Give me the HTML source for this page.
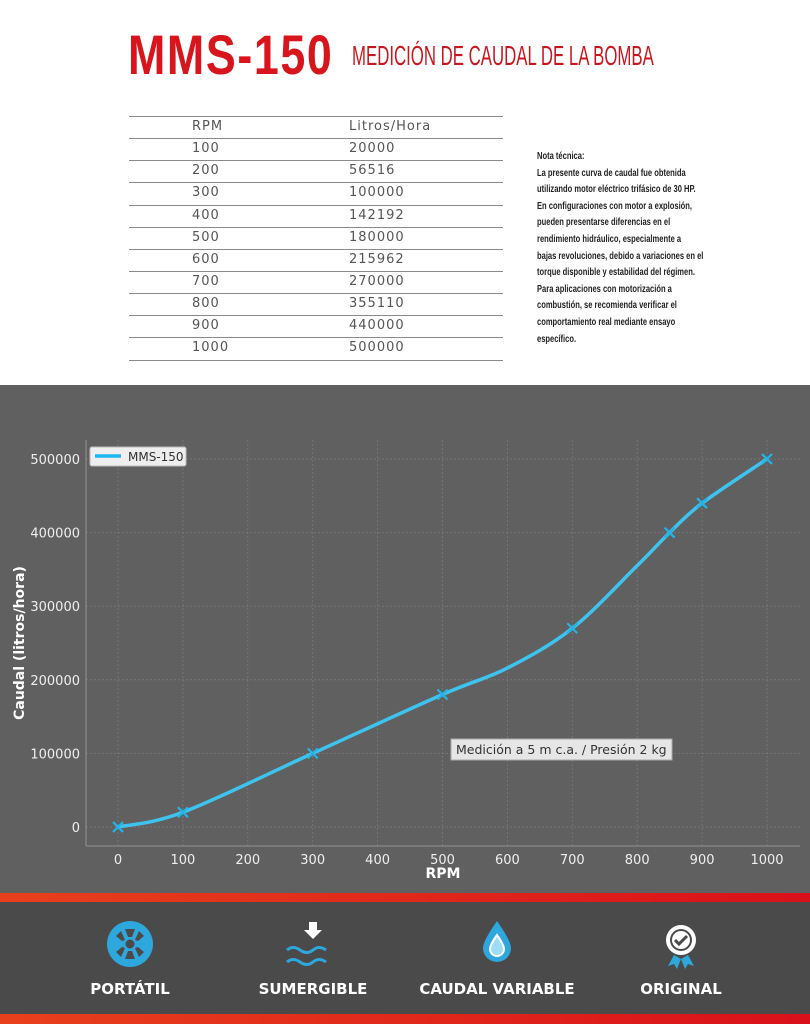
<!DOCTYPE html>
<html><head><meta charset="utf-8"><style>
body{margin:0;width:810px;height:1024px;position:relative;background:#fff;font-family:"Liberation Sans",sans-serif;overflow:hidden}
.abs{position:absolute}
.t1{left:128px;top:22px;font-size:56px;font-weight:bold;color:#d8141c;transform:scaleX(0.8);transform-origin:left top;letter-spacing:2px;font-family:"Liberation Sans Narrow","Liberation Sans",sans-serif;white-space:nowrap}
.t2{left:352px;top:40px;font-size:28px;color:#c8161e;transform:scaleX(0.6);transform-origin:left top;font-family:"Liberation Sans Narrow","Liberation Sans",sans-serif;white-space:nowrap}
.row{position:absolute;left:129px;width:374px;height:22px;border-top:1px solid #8a8a8a;font-family:"DejaVu Sans",sans-serif;font-size:13px;color:#555;letter-spacing:1px}
.row span{position:absolute;top:2px}
.note{left:537px;top:148px;font-size:10.5px;font-weight:bold;line-height:16.6px;color:#222;transform:scaleX(0.72);transform-origin:left top;width:300px;font-family:"Liberation Sans Narrow","Liberation Sans",sans-serif}
.lab{position:absolute;top:980px;color:#fff;font-weight:bold;font-size:15px;font-family:"DejaVu Sans",sans-serif;transform:translateX(-50%);white-space:nowrap}
</style></head><body>
<div class="abs t1">MMS-150</div>
<div class="abs t2">MEDICIÓN DE CAUDAL DE LA BOMBA</div>
<div class="row" style="top:116px"><span style="left:63px">RPM</span><span style="left:220px">Litros/Hora</span></div>
<div class="row" style="top:138px"><span style="left:63px">100</span><span style="left:220px">20000</span></div>
<div class="row" style="top:160px"><span style="left:63px">200</span><span style="left:220px">56516</span></div>
<div class="row" style="top:182px"><span style="left:63px">300</span><span style="left:220px">100000</span></div>
<div class="row" style="top:205px"><span style="left:63px">400</span><span style="left:220px">142192</span></div>
<div class="row" style="top:227px"><span style="left:63px">500</span><span style="left:220px">180000</span></div>
<div class="row" style="top:249px"><span style="left:63px">600</span><span style="left:220px">215962</span></div>
<div class="row" style="top:271px"><span style="left:63px">700</span><span style="left:220px">270000</span></div>
<div class="row" style="top:293px"><span style="left:63px">800</span><span style="left:220px">355110</span></div>
<div class="row" style="top:315px"><span style="left:63px">900</span><span style="left:220px">440000</span></div>
<div class="row" style="top:337px"><span style="left:63px">1000</span><span style="left:220px">500000</span></div>
<div class="abs" style="left:129px;top:360px;width:374px;border-top:1px solid #8a8a8a"></div>
<div class="abs note">Nota técnica:<br>La presente curva de caudal fue obtenida<br>utilizando motor eléctrico trifásico de 30 HP.<br>En configuraciones con motor a explosión,<br>pueden presentarse diferencias en el<br>rendimiento hidráulico, especialmente a<br>bajas revoluciones, debido a variaciones en el<br>torque disponible y estabilidad del régimen.<br>Para aplicaciones con motorización a<br>combustión, se recomienda verificar el<br>comportamiento real mediante ensayo<br>específico.</div>

<svg class="abs" style="left:0;top:385px" width="810" height="639" viewBox="0 385 810 639">
<rect x="0" y="385" width="810" height="508" fill="#606060"/>
<defs><linearGradient id="rg" x1="0" x2="1"><stop offset="0" stop-color="#e8401c"/><stop offset="1" stop-color="#d9101a"/></linearGradient></defs>
<rect x="0" y="893" width="810" height="9" fill="url(#rg)"/>
<rect x="0" y="902" width="810" height="112" fill="#4a4a4a"/>
<rect x="0" y="1014" width="810" height="10" fill="url(#rg)"/>
<g id="grid" stroke="#7a7a7a" stroke-width="0.8" stroke-dasharray="2,2"></g>
<line x1="86" y1="440" x2="86" y2="846" stroke="#8a8a8a" stroke-width="1.2"/>
<line x1="86" y1="846" x2="800" y2="846" stroke="#8a8a8a" stroke-width="1.2"/>
<g id="ticks" fill="#eee" font-family="DejaVu Sans,sans-serif" font-size="13"></g>
<text x="443" y="878" fill="#fff" font-weight="bold" font-size="14" font-family="DejaVu Sans,sans-serif" text-anchor="middle">RPM</text>
<text transform="translate(24,643) rotate(-90)" fill="#fff" font-weight="bold" font-size="14" font-family="DejaVu Sans,sans-serif" text-anchor="middle">Caudal (litros/hora)</text>
<path id="curve" fill="none" stroke="#3ec3ee" stroke-width="3.5"/>
<g id="marks" stroke="#22b4e8" stroke-width="2.2"></g>
<rect x="90" y="447" width="96" height="19" fill="#eee" stroke="#bbb" rx="2"/>
<line x1="95" y1="456" x2="121" y2="456" stroke="#1ab8f0" stroke-width="3.5"/>
<text x="128" y="461" font-size="12" fill="#333" font-family="DejaVu Sans,sans-serif">MMS-150</text>
<rect x="451" y="739" width="221" height="21" fill="#e6e6e6" stroke="#aaa"/>
<text x="456" y="754" font-size="12.5" fill="#333" font-family="DejaVu Sans,sans-serif">Medición a 5 m c.a. / Presión 2 kg</text>
<ellipse cx="130" cy="944" rx="23" ry="23" fill="#2ea7dd"/>
<g fill="#4a4a4a">
<circle cx="130" cy="944" r="4.5"/>
<path d="M125,929 L135,929 L132,937 L128,937Z"/>
<path d="M125,959 L135,959 L132,951 L128,951Z"/>
<path d="M116,936 L121,931 L125,940 L122,941Z"/>
<path d="M144,936 L139,931 L135,940 L138,941Z"/>
<path d="M116,952 L121,957 L125,948 L122,947Z"/>
<path d="M144,952 L139,957 L135,948 L138,947Z"/></g>
<path d="M309,922 h8 v8 h5 l-9,9 l-9,-9 h5z" fill="#fff"/>
<path d="M287,950 q6,-5 13,0 t13,0 t13,0 M287,962 q6,-5 13,0 t13,0 t13,0" stroke="#2ea7dd" stroke-width="3" fill="none"/>
<path d="M497,921 q-14,20 -14,27 a14,14 0 0 0 28,0 q0,-7 -14,-27z" fill="#2ea7dd"/>
<path d="M497,935 q-7,10 -7,14 a7,7 0 0 0 14,0 q0,-4 -7,-14z" fill="#9fdcf5" stroke="#fff" stroke-width="2"/>
<path d="M674,955 l-6,11 l6,-2 l3,5 l4,-10z M688,955 l6,11 l-6,-2 l-3,5 l-4,-10z" fill="#2ea7dd"/>
<circle cx="681" cy="940" r="15" fill="#fff"/><circle cx="681" cy="940" r="11" fill="#4a4a4a"/><circle cx="681" cy="940" r="9" fill="#fff"/>
<path d="M675,940 l4,4 l8,-8" stroke="#4a4a4a" stroke-width="3" fill="none"/>
</svg>
<div class="lab" style="left:130px">PORTÁTIL</div>
<div class="lab" style="left:313px">SUMERGIBLE</div>
<div class="lab" style="left:497px">CAUDAL VARIABLE</div>
<div class="lab" style="left:681px">ORIGINAL</div>
<script>
var X=r=>118+r*0.649,Y=v=>827-v*0.000736,ns="http://www.w3.org/2000/svg";
var g=document.getElementById('grid'),t=document.getElementById('ticks');
function el(p,tag,a,txt){var e=document.createElementNS(ns,tag);for(var k in a)e.setAttribute(k,a[k]);if(txt)e.textContent=txt;p.appendChild(e);}
for(var r=0;r<=1000;r+=100){el(g,'line',{x1:X(r),x2:X(r),y1:440,y2:846});el(t,'text',{x:X(r),y:864,'text-anchor':'middle'},''+r);}
for(var v=0;v<=500000;v+=100000){el(g,'line',{x1:86,x2:800,y1:Y(v),y2:Y(v)});el(t,'text',{x:80,y:Y(v)+5,'text-anchor':'end'},''+v);}
var P=[[0,0],[100,20000],[300,100000],[500,180000],[600,215962],[700,270000],[800,355110],[850,400000],[900,440000],[1000,500000]].map(p=>[X(p[0]),Y(p[1])]);
var d='M'+P[0];for(var i=0;i<P.length-1;i++){var p0=P[i-1]||P[i],p1=P[i],p2=P[i+1],p3=P[i+2]||p2;
d+=' C'+(p1[0]+(p2[0]-p0[0])/6)+','+(p1[1]+(p2[1]-p0[1])/6)+' '+(p2[0]-(p3[0]-p1[0])/6)+','+(p2[1]-(p3[1]-p1[1])/6)+' '+p2;}
document.getElementById('curve').setAttribute('d',d);
var m=document.getElementById('marks');
[[0,0],[100,20000],[300,100000],[500,180000],[700,270000],[850,400000],[900,440000],[1000,500000]].forEach(p=>{var x=X(p[0]),y=Y(p[1]);el(m,'path',{d:'M'+(x-5)+','+(y-5)+'L'+(x+5)+','+(y+5)+'M'+(x-5)+','+(y+5)+'L'+(x+5)+','+(y-5)});});
</script>
</body></html>
